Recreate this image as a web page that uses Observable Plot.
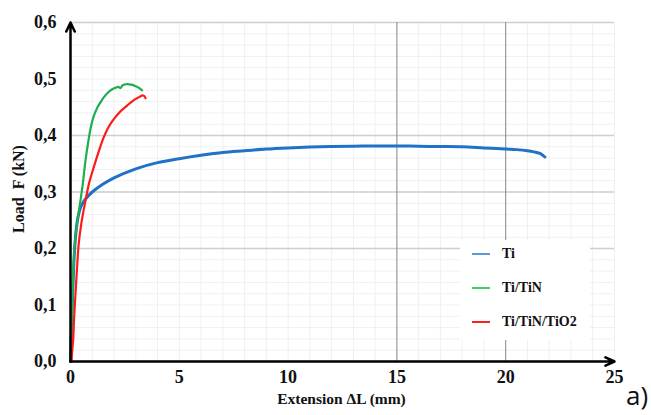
<!DOCTYPE html>
<html>
<head>
<meta charset="utf-8">
<script src="https://cdn.jsdelivr.net/npm/d3@7"></script>
<script src="https://cdn.jsdelivr.net/npm/@observablehq/plot@0.6"></script>
<style>
  html, body { margin: 0; padding: 0; background: #fff; }
  #wrap { position: relative; width: 651px; height: 415px; overflow: hidden; }
  #wrap svg text { font-family: "Liberation Serif", "Times New Roman", serif !important; font-weight: bold; font-variant: normal !important; }
  #legend { position: absolute; left: 460px; top: 240px; width: 130px; height: 100px; background: #fff;
            font-family: "Liberation Serif", "Times New Roman", serif; font-weight: bold; font-size: 14px; color: #111; }
  .item { position: absolute; left: 12px; height: 20px; display: flex; align-items: center; }
  .sw { width: 18px; height: 2px; margin-right: 12px; }
  #tag { position: absolute; left: 626px; top: 377px; font-family: "Open Sans", "Liberation Sans", sans-serif; font-size: 26px; color: #111; }
</style>
</head>
<body>
<div id="wrap"></div>
<script>
// ---- data ----
const seriesNames = ["Ti", "Ti/TiN", "Ti/TiN/TiO2"];
const seriesColors = ["#1f72c6", "#1fae4f", "#ff1a1a"];
const legendColors = ["#5b9bd5", "#3ccf6e", "#ff2020"];

const tiX = [0, 0.05, 0.1, 0.15, 0.2, 0.3, 0.4, 0.5, 0.7, 1, 1.5, 2, 3, 4, 5, 6, 7, 8, 9, 10, 11, 12, 13, 14, 15, 16, 17, 18, 19, 20, 20.5, 21, 21.3, 21.6, 21.8];
const tiY = [0, 0.06, 0.12, 0.17, 0.205, 0.245, 0.265, 0.276, 0.288, 0.300, 0.314, 0.325, 0.341, 0.352, 0.359, 0.365, 0.370, 0.373, 0.376, 0.378, 0.3795, 0.3805, 0.381, 0.3815, 0.3815, 0.381, 0.3805, 0.380, 0.378, 0.376, 0.375, 0.373, 0.371, 0.368, 0.362];

const tinX = [0, 0.04, 0.08, 0.13, 0.18, 0.25, 0.34, 0.45, 0.55, 0.69, 0.8, 0.92, 1.05, 1.23, 1.4, 1.52, 1.75, 1.98, 2.2, 2.3, 2.4, 2.6, 2.8, 3.0, 3.15, 3.29];
const tinY = [0, 0.05, 0.108, 0.16, 0.2, 0.23, 0.255, 0.283, 0.31, 0.356, 0.385, 0.412, 0.432, 0.449, 0.46, 0.467, 0.477, 0.483, 0.486, 0.484, 0.489, 0.491, 0.490, 0.487, 0.484, 0.480];

const tioX = [0.05, 0.08, 0.12, 0.17, 0.23, 0.3, 0.38, 0.5, 0.69, 0.85, 1.07, 1.3, 1.53, 1.75, 1.99, 2.3, 2.6, 2.85, 3.06, 3.2, 3.29, 3.38, 3.45];
const tioY = [0, 0.02, 0.037, 0.08, 0.12, 0.165, 0.209, 0.245, 0.285, 0.315, 0.344, 0.372, 0.397, 0.415, 0.429, 0.443, 0.453, 0.461, 0.466, 0.469, 0.471, 0.470, 0.466];

const xTicks = [0, 5, 10, 15, 20, 25];
const yTicks = [0, 0.1, 0.2, 0.3, 0.4, 0.5, 0.6];
const yMajorGrid = [0.2, 0.3, 0.4, 0.6];
const xMajorGrid = [15, 20];
const xLabel = "Extension ΔL (mm)";
const yLabel = "Load  F (kN)";
const panelTag = "a)";

// ---- build ----
const xDomain = [0, 25], yDomain = [0, 0.6];
const toRows = (name, xs, ys) => xs.map((x, i) => ({series: name, x, y: ys[i]}));
const rows = [
  ...toRows(seriesNames[0], tiX, tiY),
  ...toRows(seriesNames[1], tinX, tinY),
  ...toRows(seriesNames[2], tioX, tioY)
];
const minorX = d3.range(1, 26, 1);
const minorY = d3.range(0.02, 0.6001, 0.02);
const comma = d => d3.format(".1f")(d).replace(".", ",");
const serif = "\"Liberation Serif\", \"Times New Roman\", serif";

const chart = Plot.plot({
  width: 651, height: 415,
  marginLeft: 70, marginRight: 37, marginTop: 22, marginBottom: 54,
  style: {fontFamily: serif, background: "#fff", overflow: "visible"},
  x: {domain: xDomain},
  y: {domain: yDomain},
  color: {domain: seriesNames, range: seriesColors},
  marks: [
    Plot.ruleX(minorX, {stroke: "#f0f0f0", strokeWidth: 1}),
    Plot.ruleY(minorY, {stroke: "#f0f0f0", strokeWidth: 1}),
    Plot.ruleY(yMajorGrid, {stroke: "#cfcfcf", strokeWidth: 1.5}),
    Plot.ruleX(xMajorGrid, {stroke: "#8a8a8a", strokeWidth: 1}),
    Plot.line(rows, {x: "x", y: "y", z: "series", stroke: "series", strokeWidth: d => d.series === "Ti" ? 3 : 2.2, curve: "catmull-rom"}),
    Plot.arrow([0], {x1: xDomain[0], y1: 0, x2: xDomain[1], y2: 0, stroke: "#000", strokeWidth: 2.5, headLength: 6, headAngle: 50}),
    Plot.arrow([0], {x1: 0, y1: yDomain[0], x2: 0, y2: yDomain[1], stroke: "#000", strokeWidth: 2.5, headLength: 6, headAngle: 50}),
    Plot.axisX(xTicks, {tickSize: 0, tickPadding: 9, fontSize: 18, fontWeight: "bold", fill: "#111", label: null}),
    Plot.axisY(yTicks, {tickSize: 0, tickPadding: 14, fontSize: 18, fontWeight: "bold", fill: "#111", tickFormat: comma, label: null}),
    Plot.text([xLabel], {frameAnchor: "bottom", dy: 42, text: d => d, fontSize: 15.5, fontWeight: "bold", fill: "#111", dx: -1}),
    Plot.text([yLabel], {frameAnchor: "left", textAnchor: "middle", dx: -52, dy: -3, rotate: -90, text: d => d, fontSize: 16, fontWeight: "bold", fill: "#111"})
  ]
});
const wrap = document.getElementById("wrap");
wrap.appendChild(chart);

const legend = document.createElement("div");
legend.id = "legend";
seriesNames.forEach((n, i) => {
  const it = document.createElement("div");
  it.className = "item";
  it.style.top = (4 + i * 34) + "px";
  const sw = document.createElement("span");
  sw.className = "sw";
  sw.style.background = legendColors[i];
  const tx = document.createElement("span");
  tx.textContent = n;
  it.appendChild(sw); it.appendChild(tx);
  legend.appendChild(it);
});
wrap.appendChild(legend);

const tag = document.createElement("div");
tag.id = "tag";
tag.textContent = panelTag;
wrap.appendChild(tag);
</script>
</body>
</html>
